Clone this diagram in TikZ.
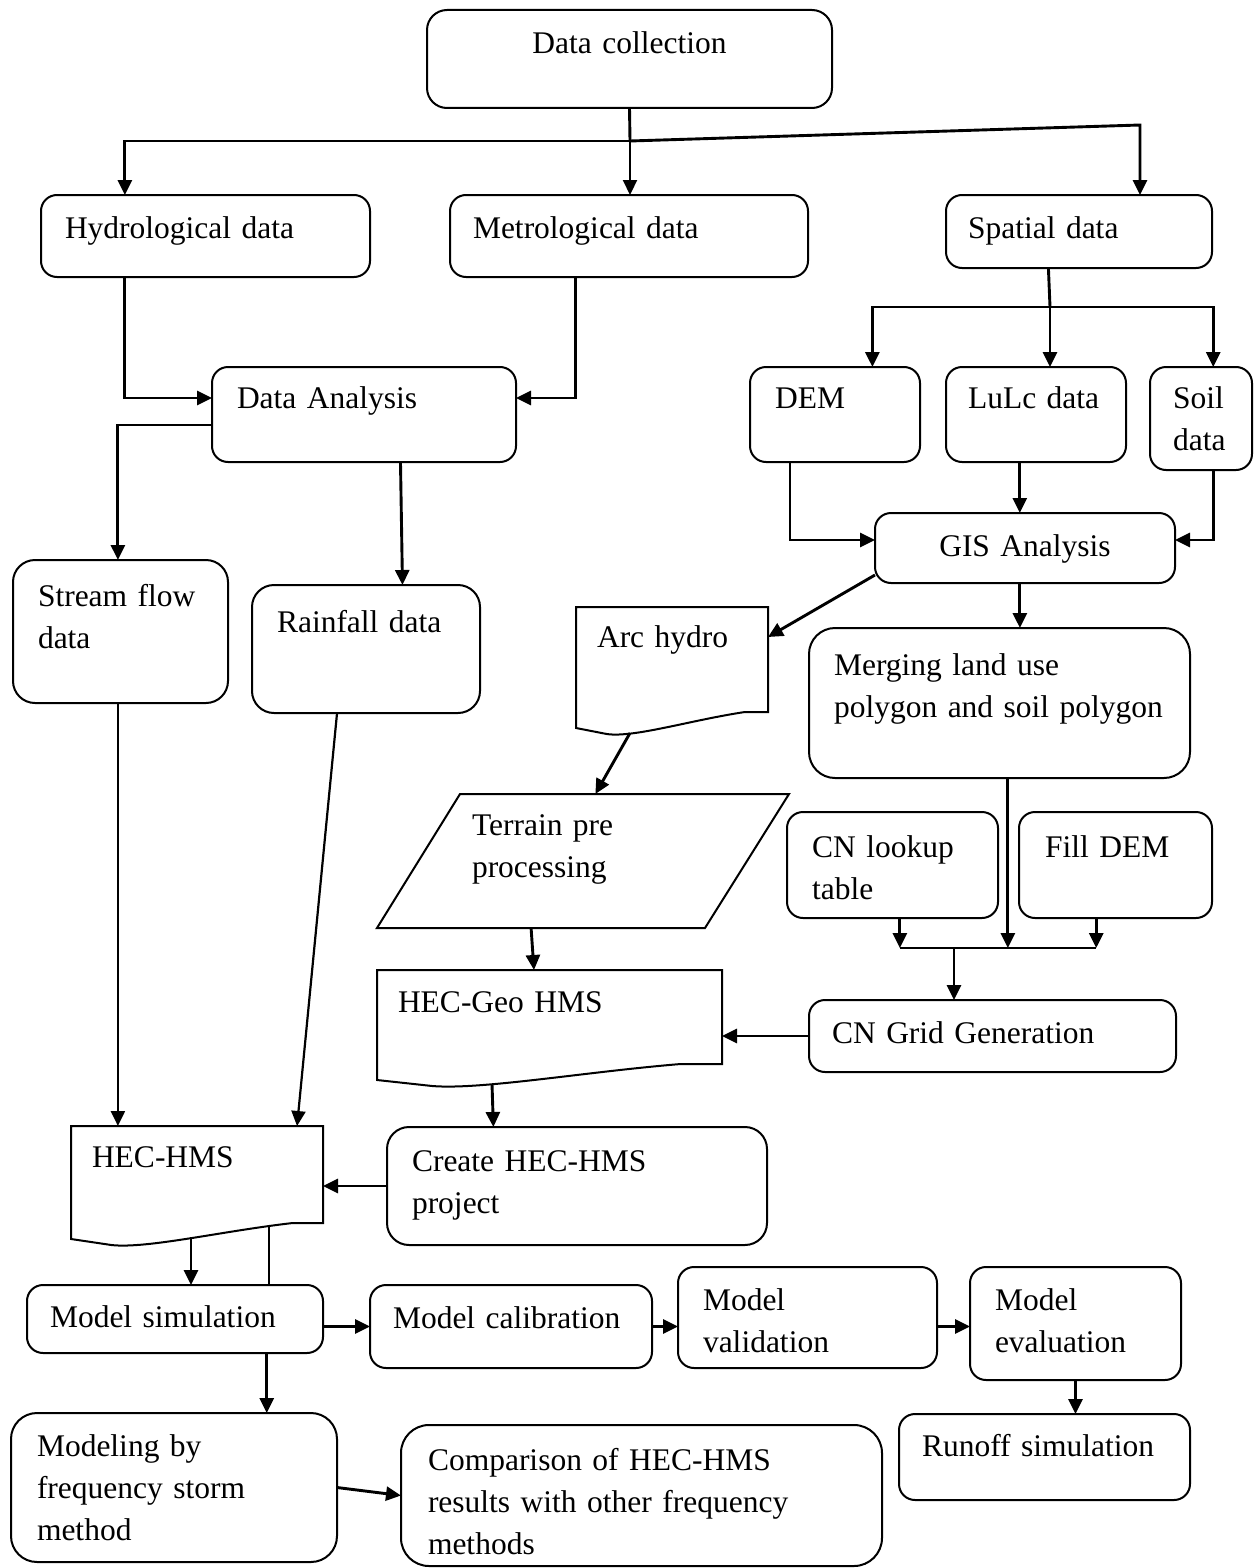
\documentclass[tikz,border=0pt]{standalone}
\usepackage{fontspec}
\setmainfont{Liberation Serif}
\usetikzlibrary{arrows.meta,calc}
\newcommand{\nohyph}{\hyphenpenalty=10000\exhyphenpenalty=10000\relax}
% wavy bottom of a document box
\newcommand{\docoutline}[1]{%
  \draw[outline] (#1.south east) -- (#1.north east) -- (#1.north west)
    -- ($(#1.south west)+(0,16)$)
    -- ($(#1.south west)!0.16!(#1.south east)+(0,22)$)
    .. controls ($(#1.south west)!0.30!(#1.south east)+(0,26)$)
    and ($(#1.south west)!0.60!(#1.south east)+(0,8)$)
    .. ($(#1.south west)!0.88!(#1.south east)$) -- cycle;}
\tikzset{
  base/.style     = {anchor=north west, align=left, inner ysep=0pt,
                     outer sep=0pt, font=\fontsize{31.5}{42}\selectfont\nohyph},
  procbox/.style  = {base, draw, rounded corners=16pt, line width=2pt},
  docbox/.style   = {base},
  outline/.style  = {line width=2pt, line join=miter},
  flow/.style     = {-{Triangle[length=15pt,width=14pt]}, line width=2.9pt},
  thinflow/.style = {flow, line width=2.2pt},
  link/.style     = {line width=2.9pt},
}
\begin{document}
\begin{tikzpicture}[x=1pt, y=-1pt]
  \useasboundingbox (0,0) rectangle (1254,1568);

  % ---------- data sources ----------------------------------------------
  \node[procbox, rounded corners=20pt, align=center, inner xsep=20pt,
        text width=365pt, text height=44pt, text depth=54pt]
    (datacol) at (427,10) {Data collection};
  \node[procbox, inner xsep=24pt, text width=281pt, text height=43pt, text depth=39pt]
    (hydro) at (41,195) {Hydrological data};
  \node[procbox, inner xsep=23pt, text width=312pt, text height=43pt, text depth=39pt]
    (meteo) at (450,195) {Metrological data};
  \node[procbox, inner xsep=22pt, text width=222pt, text height=43pt, text depth=30pt]
    (spatial) at (946,195) {Spatial data};

  \node[procbox, inner xsep=25pt, text width=254pt, text height=41pt, text depth=54pt]
    (analysis) at (212,367) {Data Analysis};
  \node[procbox, inner xsep=25pt, text width=120pt, text height=41pt, text depth=54pt]
    (dem) at (750,367) {DEM};
  \node[procbox, inner xsep=22pt, text width=136pt, text height=41pt, text depth=54pt]
    (lulc) at (946,367) {LuLc data};
  \node[procbox, inner xsep=23pt, text width=56pt, text height=41pt, text depth=62pt]
    (soil) at (1150,367) {Soil\\data};
  \node[procbox, align=center, inner xsep=20pt, text width=260pt, text height=43pt,
        text depth=27pt]
    (gis) at (875,513) {GIS Analysis};

  % ---------- processing --------------------------------------------------
  \node[procbox, rounded corners=22pt, inner xsep=25pt, text width=165pt,
        text height=46pt, text depth=97pt]
    (stream) at (13,560) {Stream flow\\data};
  \node[procbox, rounded corners=22pt, inner xsep=25pt, text width=178pt,
        text height=47pt, text depth=81pt]
    (rain) at (252,585) {Rainfall data};
  \node[docbox, inner xsep=21pt, text width=150pt, text height=40pt, text depth=65pt]
    (arc) at (576,607) {Arc hydro};
  \node[procbox, rounded corners=26pt, inner xsep=25pt, text width=331pt,
        text height=47pt, text depth=103pt]
    (merge) at (809,628) {Merging land use\\polygon and soil polygon};
  \node[docbox, inner xsep=95pt, text width=222pt, text height=41pt, text depth=93pt]
    (terrain) at (377,794) {Terrain pre\\processing};
  \node[procbox, inner xsep=25pt, text width=161pt, text height=45pt, text depth=61pt]
    (cnlookup) at (787,812) {CN lookup\\table};
  \node[procbox, inner xsep=26pt, text width=141pt, text height=45pt, text depth=61pt]
    (filldem) at (1019,812) {Fill DEM};
  \node[docbox, inner xsep=21pt, text width=303pt, text height=42pt, text depth=52pt]
    (hecgeo) at (377,970) {HEC-Geo HMS};
  \node[procbox, inner xsep=23pt, text width=321pt, text height=43pt, text depth=29pt]
    (cngrid) at (809,1000) {CN Grid Generation};
  \node[docbox, inner xsep=21pt, text width=210pt, text height=41pt, text depth=56pt]
    (hechms) at (71,1126) {HEC-HMS};
  \node[procbox, rounded corners=22pt, inner xsep=25pt, text width=330pt,
        text height=44pt, text depth=74pt]
    (create) at (387,1127) {Create HEC-HMS\\project};

  % ---------- modelling ---------------------------------------------------
  \node[procbox, inner xsep=23pt, text width=250pt, text height=42pt, text depth=26pt]
    (modsim) at (27,1285) {Model simulation};
  \node[procbox, inner xsep=23pt, text width=236pt, text height=43pt, text depth=40pt]
    (modcal) at (370,1285) {Model calibration};
  \node[procbox, inner xsep=25pt, text width=209pt, text height=43pt, text depth=58pt]
    (modval) at (678,1267) {Model\\validation};
  \node[procbox, inner xsep=25pt, text width=161pt, text height=43pt, text depth=70pt]
    (modeval) at (970,1267) {Model\\evaluation};
  \node[procbox, inner xsep=23pt, text width=245pt, text height=42pt, text depth=44pt]
    (runoff) at (899,1414) {Runoff simulation};
  \node[procbox, rounded corners=26pt, inner xsep=26pt, text width=274pt,
        text height=43pt, text depth=106pt]
    (freq) at (11,1413) {Modeling by\\frequency storm\\method};
  \node[procbox, rounded corners=28pt, inner xsep=27pt, text width=427pt,
        text height=45pt, text depth=96pt]
    (compare) at (401,1425) {Comparison of HEC-HMS\\results with other frequency\\methods};

  % outlines of the non-rounded shapes
  \docoutline{arc}
  \docoutline{hecgeo}
  \docoutline{hechms}
  \draw[outline] ([xshift=83pt]terrain.north west) -- (terrain.north east)
    -- ([xshift=-84pt]terrain.south east) -- (terrain.south west) -- cycle;

  % helper anchors
  \coordinate (split)   at (630,141);
  \coordinate (split2)  at (1050,307);
  \coordinate (cnjoin)  at (954,948);
  \coordinate (hydroN)  at ($(hydro.north west)!0.255!(hydro.north east)$);
  \coordinate (hydroS)  at ($(hydro.south west)!0.255!(hydro.south east)$);
  \coordinate (meteoS)  at ($(meteo.south west)!0.35!(meteo.south east)$);
  \coordinate (spatS)   at ($(spatial.south west)!0.385!(spatial.south east)$);
  \coordinate (demN)    at ($(dem.north west)!0.72!(dem.north east)$);
  \coordinate (soilN)   at ($(soil.north west)!0.62!(soil.north east)$);
  \coordinate (demS)    at ($(dem.south west)!0.235!(dem.south east)$);
  \coordinate (lulcS)   at ($(lulc.south west)!0.41!(lulc.south east)$);
  \coordinate (soilS)   at ($(soil.south west)!0.62!(soil.south east)$);
  \coordinate (gisS)    at ($(gis.south west)!0.483!(gis.south east)$);
  \coordinate (anaS)    at ($(analysis.south west)!0.62!(analysis.south east)$);
  \coordinate (rainN)   at ($(rain.north west)!0.66!(rain.north east)$);
  \coordinate (streamN) at ($(stream.north west)!0.488!(stream.north east)$);
  \coordinate (rainS)   at ($(rain.south west)!0.373!(rain.south east)$);
  \coordinate (hmsN)    at ($(hechms.north west)!0.897!(hechms.north east)$);
  \coordinate (arcS)    at ([shift={(54pt,-21pt)}]arc.south west);
  \coordinate (terN)    at ($(terrain.north west)!0.53!(terrain.north east)$);
  \coordinate (terS)    at ($(terrain.south west)!0.374!(terrain.south east)$);
  \coordinate (geoN)    at ($(hecgeo.north west)!0.455!(hecgeo.north east)$);
  \coordinate (mergeS)  at ($(merge.south west)!0.522!(merge.south east)$);
  \coordinate (cnlS)    at ($(cnlookup.south west)!0.535!(cnlookup.south east)$);
  \coordinate (fillS)   at ($(filldem.south west)!0.4!(filldem.south east)$);
  \coordinate (geoS)    at ([shift={(115pt,-20pt)}]hecgeo.south west);
  \coordinate (createN) at ($(create.north west)!0.28!(create.north east)$);
  \coordinate (hmsSl)   at ([shift={(120pt,-14pt)}]hechms.south west);
  \coordinate (hmsSr)   at ([shift={(198pt,-4pt)}]hechms.south west);
  \coordinate (simS)    at ($(modsim.south west)!0.81!(modsim.south east)$);

  % ---------- connectors -------------------------------------------------
  \draw[link] (datacol.south) -- (split);
  \draw[thinflow] (split) -- (split |- meteo.north);
  \draw[flow] (split) -| (hydroN);
  \draw[flow] (split) -- ++(510,-16) coordinate (sbend) -- (sbend |- spatial.north);

  \draw[flow] (hydroS) |- ([yshift=-31pt]analysis.north west);
  \draw[flow] (meteoS) |- ([yshift=-31pt]analysis.north east);

  \draw[link] (spatS) -- (split2);
  \draw[flow] (split2) -| (demN);
  \draw[flow] (split2) -- (split2 |- lulc.north);
  \draw[flow] (split2) -| (soilN);

  \draw[flow] (demS) |- ([yshift=-27pt]gis.north west);
  \draw[flow] (lulcS) -- (lulcS |- gis.north);
  \draw[flow] (soilS) |- ([yshift=-27pt]gis.north east);
  \draw[flow] ([yshift=8pt]gis.south west) -- ([yshift=-30pt]arc.north east);
  \draw[flow] (gisS) -- (gisS |- merge.north);

  \draw[flow] ([yshift=-58pt]analysis.north west) -| (streamN);
  \draw[flow] (anaS) -- (rainN);
  \draw[thinflow] (streamN |- stream.south) -- (streamN |- hechms.north);
  \draw[thinflow] (rainS) -- (hmsN);

  \draw[flow] (arcS) -- (terN);
  \draw[flow] (terS) -- (geoN);

  \draw[flow] (mergeS) -- (mergeS |- cnjoin);
  \draw[flow] (cnlS) -- (cnlS |- cnjoin);
  \draw[flow] (fillS) -- (fillS |- cnjoin);
  \draw[link] (cnlS |- cnjoin) -- (fillS |- cnjoin);
  \draw[flow] (cnjoin) -- (cnjoin |- cngrid.north);
  \draw[flow] (cngrid.west) -- (cngrid.west -| hecgeo.east);

  \draw[flow] (geoS) -- (createN);
  \draw[flow] (create.west) -- (create.west -| hechms.east);
  \draw[flow] (hmsSl) -- (hmsSl |- modsim.north);
  \draw[link] (hmsSr) -- (hmsSr |- modsim.north);

  \draw[flow] (modsim.east |- modcal.west) -- (modcal.west);
  \draw[flow] (modcal.east) -- (modcal.east -| modval.west);
  \draw[flow] (modcal.east -| modval.east) -- (modcal.east -| modeval.west);
  \draw[flow] (modeval.south) -- (modeval.south |- runoff.north);
  \draw[flow] (simS) -- (simS |- freq.north);
  \draw[flow] (freq.east) -- (compare.west);

\end{tikzpicture}
\end{document}
